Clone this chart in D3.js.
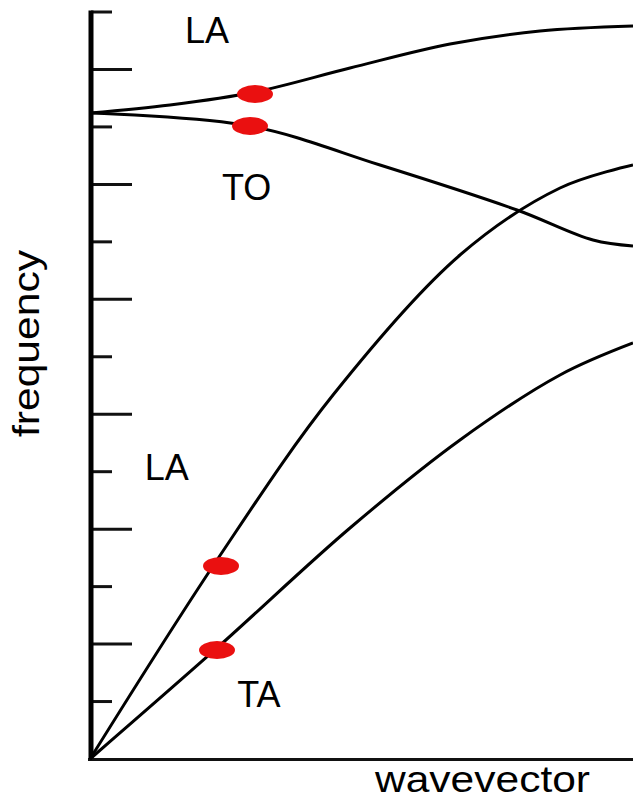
<!DOCTYPE html>
<html><head><meta charset="utf-8">
<script src="https://cdn.jsdelivr.net/npm/d3@7"></script>
<style>html,body{margin:0;padding:0;background:#fff;}svg{display:block;}</style>
</head><body>
<svg id="c" width="633" height="801"></svg>
<script>
// wavevector (0..1) and frequency (tick units, 0..13)
const laUpper = [[0,11.242],[0.1473,11.382],[0.3039,11.608],[0.4788,12.025],[0.663,12.443],[0.8287,12.669],[1,12.756]];
const toBranch = [[0,11.242],[0.2947,11.016],[0.5341,10.337],[0.7864,9.554],[0.9263,9.032],[1,8.928]];
const laLower = [[0,0],[0.2339,3.463],[0.4475,6.335],[0.6814,8.771],[0.8656,9.937],[1,10.338]];
const taBranch = [[0,0],[0.2339,1.932],[0.4788,4.02],[0.6814,5.552],[0.8656,6.683],[1,7.24]];
const dots = [[0.3039,11.573],[0.2947,11.016],[0.2413,3.359],[0.2339,1.897]];
const tickValues = [1,2,3,4,5,6,7,8,9,10,11,12,13];
const labels = [
  {text:"LA", q:0.175, f:12.46},
  {text:"TO", q:0.243, f:9.73},
  {text:"LA", q:0.101, f:4.85},
  {text:"TA", q:0.271, f:0.91}
];

const svg = d3.select("#c");
const x = d3.scaleLinear([0,1],[90,633]);
const y = d3.scaleLinear([0,13],[759,12]);

// ticks
svg.append("g").selectAll("line").data(tickValues).join("line")
  .attr("x1", 91).attr("x2", d => d % 2 === 0 ? 132 : 112)
  .attr("y1", d => y(d)).attr("y2", d => y(d))
  .attr("stroke","#111").attr("stroke-width",3);

// axes
svg.append("line").attr("x1",91).attr("x2",91).attr("y1",y(13)-1.5).attr("y2",y(0)+2)
  .attr("stroke","#000").attr("stroke-width",5);
svg.append("line").attr("x1",88).attr("x2",633).attr("y1",y(0)+0.5).attr("y2",y(0)+0.5)
  .attr("stroke","#111").attr("stroke-width",3);

// curves
const line = d3.line().x(d => x(d[0])).y(d => y(d[1])).curve(d3.curveCatmullRom.alpha(0.5));
[laUpper, toBranch, laLower, taBranch].forEach(s => {
  svg.append("path").attr("d", line(s)).attr("fill","none")
    .attr("stroke","#000").attr("stroke-width",3);
});

// dots
svg.append("g").selectAll("ellipse").data(dots).join("ellipse")
  .attr("cx", d => x(d[0])).attr("cy", d => y(d[1]))
  .attr("rx",18).attr("ry",9).attr("fill","#ea1010");

// labels
svg.append("g").selectAll("text").data(labels).join("text")
  .attr("x", d => x(d.q)).attr("y", d => y(d.f))
  .attr("font-family","Liberation Sans, Arial, sans-serif").attr("font-size",36)
  .attr("fill","#000").text(d => d.text);

svg.append("text").attr("x",375).attr("y",792)
  .attr("font-family","Liberation Sans, Arial, sans-serif").attr("font-size",36)
  .attr("textLength",215).attr("lengthAdjust","spacingAndGlyphs").text("wavevector");

svg.append("text").attr("transform","translate(39,437) rotate(-90)")
  .attr("font-family","Liberation Sans, Arial, sans-serif").attr("font-size",36)
  .attr("textLength",187).attr("lengthAdjust","spacingAndGlyphs").text("frequency");
</script>
</body></html>
